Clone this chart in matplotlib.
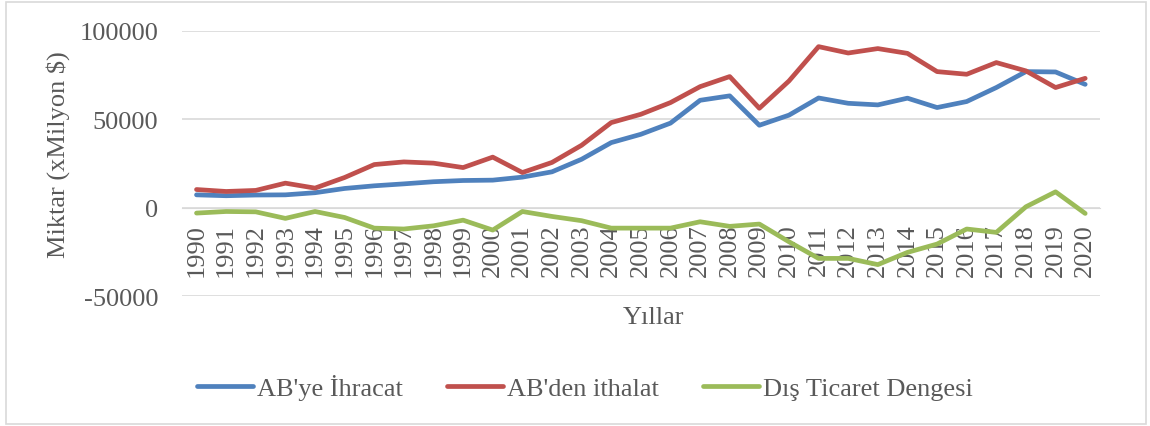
import matplotlib
matplotlib.use("Agg")
import matplotlib.pyplot as plt
from matplotlib.patches import Rectangle
import numpy as np

years = [str(y) for y in range(1990, 2021)]
ihracat = [7300, 6800, 7200, 7300, 8500, 10900, 12400, 13500, 14700, 15400, 15600,
           17300, 20300, 27400, 36800, 41500, 47800, 60700, 63200, 46600, 52300,
           62000, 59000, 58100, 61900, 56600, 60000, 67900, 76900, 76700, 69700]
ithalat = [10300, 9200, 9800, 13900, 11100, 17100, 24400, 25900, 25200, 22700, 28600,
           19900, 25600, 35300, 48100, 52800, 59400, 68400, 74100, 56200, 71600,
           91000, 87400, 89900, 87200, 76900, 75400, 82000, 77300, 67900, 73100]
denge = [-3000, -2100, -2300, -6000, -2100, -5500, -11500, -12000, -10200, -7000, -12600,
         -2100, -4900, -7300, -11500, -11500, -11500, -7900, -10500, -9200, -19200,
         -28600, -28600, -32100, -25200, -20500, -12000, -13900, 560, 9000, -3200]
series_names = ["AB'ye İhracat", "AB'den ithalat", "Dış Ticaret Dengesi"]
yticks = [-50000, 0, 50000, 100000]

plt.rcParams['font.family'] = ['Liberation Serif', 'DejaVu Serif']
txt = '#595959'
grid = '#d9d9d9'
fs = 19

fig = plt.figure(figsize=(11.5, 4.27), dpi=100)
ax = fig.add_axes([181.7/1150, 1-297.3/427, (1100-181.7)/1150, (297.3-31.7)/427])

x = np.arange(len(years))
colors = ['#4F81BD', '#C0504D', '#9BBB59']
for vals, c, n in zip([ihracat, ithalat, denge], colors, series_names):
    ax.plot(x, vals, color=c, lw=3.4, label=n, solid_capstyle='round', zorder=3)

ax.set_xlim(-0.5, len(years)-0.5)
ax.set_ylim(-50000, 100000)
ax.set_yticks(yticks)
ax.set_yticklabels([str(v) for v in yticks])
ax.set_xticks(x)
ax.set_xticklabels(years)
ax.grid(axis='y', color=grid, lw=1.2, zorder=0)
for s in ['top', 'right', 'left']:
    ax.spines[s].set_visible(False)
ax.spines['bottom'].set_position(('data', 0))
ax.spines['bottom'].set_color(grid)
ax.tick_params(axis='x', length=0, pad=11, labelsize=fs, labelcolor=txt, labelrotation=90)
ax.tick_params(axis='y', length=0, pad=17, labelsize=fs, labelcolor=txt)

fig.text(58/1150, 1-155/427, 'Miktar (xMilyon $)', rotation=90, ha='center', va='center',
         fontsize=fs, color=txt)
fig.text(654/1150, 1-318/427, 'Yıllar', ha='center', va='center', fontsize=fs, color=txt)

leg = fig.legend(loc='center', bbox_to_anchor=(585/1150, 1-388/427), ncol=3, frameon=False,
                 fontsize=fs, handlelength=2.1, handletextpad=0.15, columnspacing=1.7)
for t in leg.get_texts():
    t.set_color(txt)

fig.patches.append(Rectangle((6/1150, 2/427), 1140/1150, 422/427, transform=fig.transFigure,
                             fill=False, edgecolor=grid, lw=1.2))

fig.savefig('out.png', dpi=100)
